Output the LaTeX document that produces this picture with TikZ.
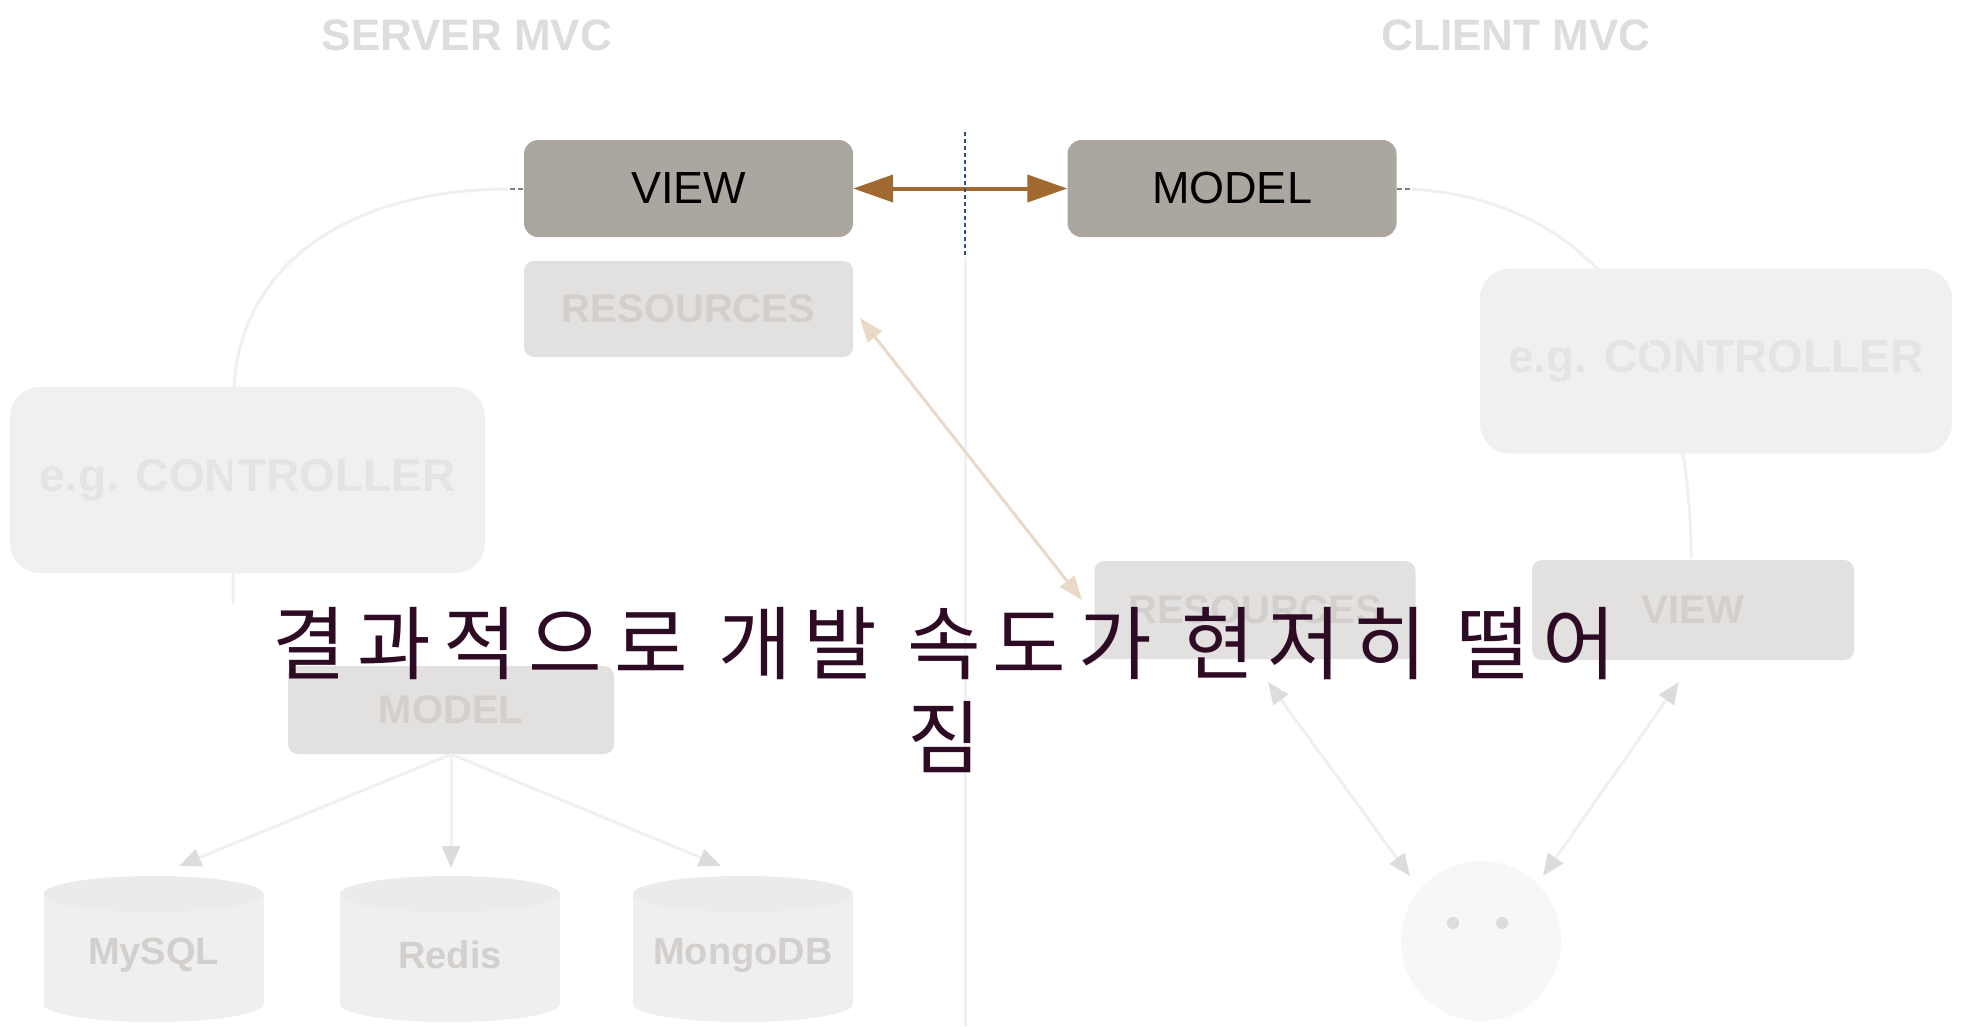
\documentclass[tikz,border=0pt]{standalone}
\usepackage{fontspec}
\setmainfont{Liberation Sans}
\newfontfamily\kofont[LetterSpace=15]{Noto Sans CJK KR}
\usetikzlibrary{arrows.meta}
\definecolor{boxgray}{HTML}{ABA69F}
\definecolor{arrowbrown}{HTML}{A0692F}
\definecolor{dashblue}{HTML}{2F4F7F}
\definecolor{overlaytext}{HTML}{2E0B24}
\definecolor{ghostfillA}{HTML}{E3E1DF}
\definecolor{ghostfillB}{HTML}{F1F0EF}
\definecolor{ghosttextA}{HTML}{D2CFCD}
\definecolor{ghosttextB}{HTML}{E6E4E2}
\definecolor{ghostline}{HTML}{F0F0F0}
\definecolor{ghosthead}{HTML}{DCDCDC}
\definecolor{ghostbrown}{HTML}{EAD9C6}
\definecolor{ghostcyl}{HTML}{EFEFEF}
\definecolor{ghosttitle}{HTML}{DDDDDD}
\definecolor{paleblue}{HTML}{EEF1F5}
\begin{document}
\begin{tikzpicture}[x=1pt,y=-1pt,
  crisp/.style={rectangle, rounded corners=14pt, fill=boxgray, minimum width=329pt,
    minimum height=97pt, inner sep=0pt, text=black, font=\fontsize{45}{54}\selectfont},
  ghostA/.style={rectangle, rounded corners=10pt, fill=ghostfillA, text=ghosttextA,
    inner sep=0pt, font=\bfseries\fontsize{40}{48}\selectfont},
  ghostB/.style={rectangle, rounded corners=30pt, fill=ghostfillB, text=ghosttextB,
    inner sep=0pt, font=\bfseries\fontsize{46}{54}\selectfont},
  ghosttitlestyle/.style={text=ghosttitle, inner sep=0pt, font=\bfseries\fontsize{44}{52}\selectfont},
  cyltext/.style={text=ghosttextA, inner sep=0pt, font=\bfseries\fontsize{38}{46}\selectfont},
  faint/.style={draw=ghostline, line width=3pt},
  faintarrow/.style={draw=ghostline, line width=3pt, -{Triangle[length=22pt,width=18pt,color=ghosthead]}},
  faintboth/.style={draw=ghostline, line width=3pt, {Triangle[length=22pt,width=18pt,color=ghosthead]}-{Triangle[length=22pt,width=18pt,color=ghosthead]}},
]
\useasboundingbox[fill=white] (0,0) rectangle (1967,1026);

% pale vertical separator
\coordinate (sepA) at (965,257);
\coordinate (sepB) at (965,1026);
\draw[paleblue, line width=3pt] (sepA) -- (sepB);

% titles
\node[ghosttitlestyle] (servertitle) at (467,35) {SERVER MVC};
\node[ghosttitlestyle] (clienttitle) at (1516,35) {CLIENT MVC};

% left faint structure
\node[ghostB, minimum width=475pt, minimum height=186pt] (lctrl) at (247.5,480) {e.g. CONTROLLER};
\node[ghostA, minimum width=329pt, minimum height=96pt] (lres) at (688.5,309) {RESOURCES};
\node[ghostA, minimum width=326pt, minimum height=88pt] (lmodel) at (451,710) {MODEL};

\coordinate (viewdash) at (508,189);
\coordinate (lctrltop) at (234,392);
\coordinate (lctrlbot) at (233,604);
\draw[faint] (viewdash) .. controls (330,190) and (236,280) .. (lctrltop) -- (lctrlbot);

% cylinders
\foreach \cx/\nm/\lab in {153.5/mysql/MySQL, 450/redis/Redis, 743/mongo/MongoDB}{
  \fill[ghostcyl] (\cx pt-110pt,-894pt) rectangle (\cx pt+110pt,-1004pt);
  \fill[ghostcyl] (\cx pt,-1004pt) ellipse [x radius=110pt, y radius=18pt];
  \fill[ghostcyl!85!gray!60!white] (\cx pt,-894pt) ellipse [x radius=110pt, y radius=18pt];
  \node[cyltext] (\nm) at (\cx,955) {\lab};
}
\coordinate (mysqltop) at (179,866);
\coordinate (redistop) at (451,868);
\coordinate (mongotop) at (721,866);
\draw[faintarrow] (lmodel.south) -- (mysqltop);
\draw[faintarrow] (lmodel.south) -- (redistop);
\draw[faintarrow] (lmodel.south) -- (mongotop);

% right faint structure
\node[ghostB, minimum width=472pt, minimum height=185pt] (rctrl) at (1716,361) {e.g. CONTROLLER};
\node[ghostA, minimum width=321pt, minimum height=98pt] (rres) at (1255,610) {RESOURCES};
\node[ghostA, minimum width=322pt, minimum height=100pt] (rview) at (1693,610) {VIEW};

\coordinate (modeldash) at (1412,189);
\coordinate (rarcend) at (1691,558);
\draw[faint] (modeldash) .. controls (1580,200) and (1691,320) .. (rarcend);

\node[circle, fill=white!97!black, minimum size=160pt, inner sep=0pt] (user) at (1481,941) {};
\fill[ghosthead] (1453,923) circle[radius=6pt];
\fill[ghosthead] (1502,923) circle[radius=6pt];
\coordinate (resbot) at (1268,682);
\coordinate (viewbot) at (1679,682);
\coordinate (userleft) at (1410,876);
\coordinate (userright) at (1543,876);
\draw[faintboth] (resbot) -- (userleft);
\draw[faintboth] (viewbot) -- (userright);

% faded brown arrow between resources
\coordinate (lresend) at (860,318);
\coordinate (rresend) at (1082,600);
\draw[draw=ghostbrown, line width=3pt, {Triangle[length=24pt,width=18pt]}-{Triangle[length=24pt,width=18pt]}] (lresend) -- (rresend);

% small dashes next to crisp boxes
\coordinate (vdA) at (510,189);
\coordinate (vdB) at (527,189);
\coordinate (mdA) at (1397,189);
\coordinate (mdB) at (1413,189);
\draw[gray, line width=1.5pt, dash pattern=on 5pt off 3pt] (vdA) -- (vdB);
\draw[gray, line width=1.5pt, dash pattern=on 5pt off 3pt] (mdA) -- (mdB);

% crisp boxes
\node[crisp] (view) at (688.5,188.5) {VIEW};
\node[crisp] (model) at (1232,188.5) {MODEL};
\draw[arrowbrown, line width=4pt, {Triangle[length=40pt,width=27pt]}-{Triangle[length=40pt,width=27pt]}] (view.east) -- (model.west);

% dashed divider
\coordinate (divA) at (965,132);
\coordinate (divB) at (965,257);
\draw[dashblue, line width=1.3pt, dash pattern=on 4pt off 3pt] (divA) -- (divB);

% overlay text
\node[text=overlaytext, align=center, inner sep=0pt,
  font=\kofont\fontsize{80}{94}\selectfont] (caption) at (944,690)
  {결과적으로 개발 속도가 현저히 떨어\\짐};
\end{tikzpicture}
\end{document}
